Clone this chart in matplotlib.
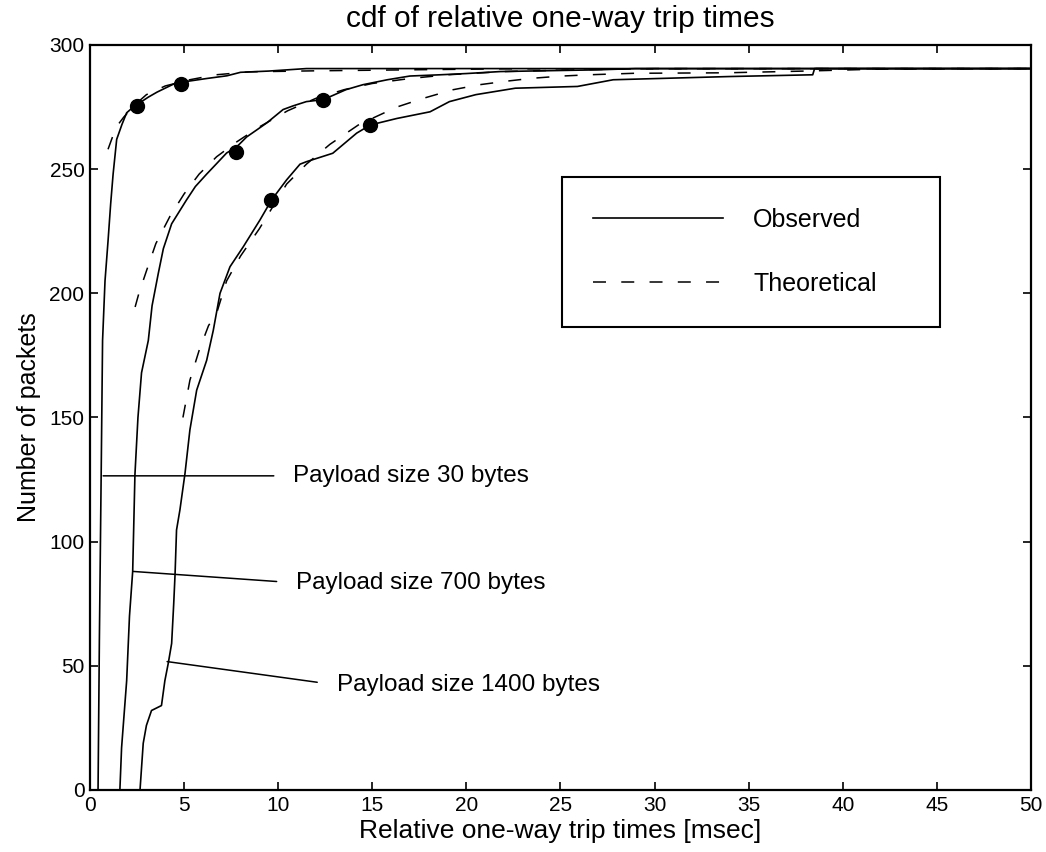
import numpy as np
import matplotlib
matplotlib.use('Agg')
import matplotlib.pyplot as plt

plt.rcParams['font.family'] = ['Liberation Sans', 'DejaVu Sans']

# observed cdf curves (x in msec, y = number of packets)
obs_30_x = [0.43, 0.5, 0.6, 0.67, 0.8, 0.96, 1.1, 1.23, 1.42, 1.7, 1.95, 2.3, 2.7, 3.1,
            3.56, 4.1, 4.62, 5.3, 6.2, 7.28, 8.0, 9.5, 11.5, 50]
obs_30_y = [0, 60, 130, 181, 205, 221, 236, 248, 262, 268, 272.7, 275, 277, 279,
            281, 283, 284.9, 285.5, 286.5, 287.6, 289, 289.5, 290.5, 290.5]

obs_700_x = [1.59, 1.68, 1.95, 2.1, 2.27, 2.39, 2.55, 2.74, 3.1, 3.3, 3.63, 3.9, 4.34, 5.13,
             5.6, 6.2, 6.7, 7.26, 7.8, 8.33, 8.9, 9.39, 10.26, 10.8, 11.5, 12.4, 13.0, 13.6,
             14.5, 15.8, 17.0, 18.6, 20.0, 21.8, 24.0, 27.0, 29.0, 50]
obs_700_y = [0, 17, 44, 70, 88, 127, 150, 168, 181, 195, 208, 218, 228, 237.6,
             243, 248, 252, 256.5, 259, 263, 266, 268.6, 274, 275.5, 277.2, 278, 280, 282,
             284, 286, 287.5, 288, 288.5, 289.3, 289.6, 290, 290.5, 290.5]

obs_1400_x = [2.66, 2.75, 2.83, 3.0, 3.27, 3.8, 3.98, 4.16, 4.34, 4.45, 4.52, 4.6, 4.78, 5.05,
              5.31, 5.67, 6.2, 6.55, 6.91, 7.44, 8.15, 9.03, 9.65, 10.45, 11.16, 11.5, 12.9,
              14.17, 14.9, 16.3, 18.07, 19.1, 20.5, 22.6, 25.9, 27.8, 34.0, 38.4, 38.5, 50]
obs_1400_y = [0, 10, 18.8, 26, 32, 34, 44, 51, 59, 75, 86.6, 104.7, 112.8, 127.5,
              145, 161, 173, 185, 200, 210.7, 218.8, 229.5, 237.6, 245.7, 252, 253, 256.4,
              264.5, 267.8, 270.4, 273.1, 277.2, 280, 282.6, 283.3, 286, 287.3, 288, 290.5, 290.5]

# theoretical curves
th_30_x = [0.96, 1.2, 1.5, 1.8, 2.4, 3.0, 4.0, 5.3, 6.7, 8.5, 12, 17, 22, 50]
th_30_y = [258, 263, 268, 271, 276, 280, 283.5, 286, 288, 289.2, 289.6, 290, 290.4, 290.5]

th_700_x = [2.4, 2.6, 3.0, 3.5, 4.25, 5.0, 5.8, 6.73, 7.8, 9.0, 10.5, 12.0, 13.5, 15, 17, 19,
            22, 26, 30, 50]
th_700_y = [194.5, 200, 209, 220, 231, 240, 248, 255, 261, 267, 273.5, 278.5, 282, 284.5,
            286.5, 288, 289.3, 290, 290.5, 290.5]

th_1400_x = [4.94, 5.31, 5.8, 6.3, 6.73, 7.26, 8.0, 9.0, 10.45, 11.5, 12.75, 14.3, 16.3, 17.7,
             19.3, 20.7, 22.1, 23.5, 25.1, 26.5, 28.9, 33.8, 38, 42, 50]
th_1400_y = [150, 165, 177, 187, 192, 205, 215, 226, 244, 252, 260, 268, 275, 278.5,
             282, 284, 285.4, 286.6, 287.5, 288, 288.6, 288.8, 289.5, 290.3, 290.5]

# marked points on the observed curves
dot_x = [2.5, 4.84, 7.76, 12.38, 9.62, 14.88]
dot_y = [275.5, 284.3, 256.9, 277.9, 237.6, 267.8]

annot_text = ['Payload size 30 bytes', 'Payload size 700 bytes', 'Payload size 1400 bytes']
annot_xy = [(0.7, 126.5), (2.3, 88), (4.1, 51.7)]
annot_xytext = [(10.8, 126.5), (10.95, 83.4), (13.1, 42.3)]

fig = plt.figure(figsize=(10.46, 8.52), dpi=100, facecolor='w')
ax = fig.add_axes([0.086, 0.0728, 0.8997, 0.8744])

dash = (8.5, 10)
l_obs, = ax.plot(obs_30_x, obs_30_y, 'k-', lw=1.2, label='Observed')
ax.plot(obs_700_x, obs_700_y, 'k-', lw=1.2)
ax.plot(obs_1400_x, obs_1400_y, 'k-', lw=1.2)
l_th, = ax.plot(th_30_x, th_30_y, 'k--', lw=1.1, dashes=dash, label='Theoretical')
ax.plot(th_700_x, th_700_y, 'k--', lw=1.1, dashes=dash)
ax.plot(th_1400_x, th_1400_y, 'k--', lw=1.1, dashes=dash)
ax.plot(dot_x, dot_y, 'ko', ms=10, ls='none')

for t, xy, xyt in zip(annot_text, annot_xy, annot_xytext):
    ax.annotate(t, xy=xy, xytext=xyt, fontsize=17.5, va='center', ha='left',
                arrowprops=dict(arrowstyle='-', color='k', lw=1.1, shrinkA=12, shrinkB=0,
                                relpos=(0, 0.5)))

leg = ax.legend(handles=[l_obs, l_th], loc='lower left',
                bbox_to_anchor=(0.5016, 0.621, 0.4016, 0.207), mode='expand',
                fontsize=18, handlelength=5.2, handletextpad=1.2, labelspacing=1.6,
                borderpad=1.25, fancybox=False, framealpha=1, borderaxespad=0)
leg.get_frame().set_edgecolor('k')
leg.get_frame().set_linewidth(1.5)

ax.set_xlim(0, 50)
ax.set_ylim(0, 300)
ax.set_xticks(np.arange(0, 51, 5))
ax.set_yticks(np.arange(0, 301, 50))
ax.tick_params(direction='in', top=True, right=True, length=6, width=1.2,
               labelsize=15, pad=4)
for s in ax.spines.values():
    s.set_linewidth(1.6)

ax.set_title('cdf of relative one-way trip times', fontsize=21.5, pad=13)
ax.set_xlabel('Relative one-way trip times [msec]', fontsize=19, labelpad=3)
ax.set_ylabel('Number of packets', fontsize=18, labelpad=6)

fig.savefig('out.png', dpi=100)
